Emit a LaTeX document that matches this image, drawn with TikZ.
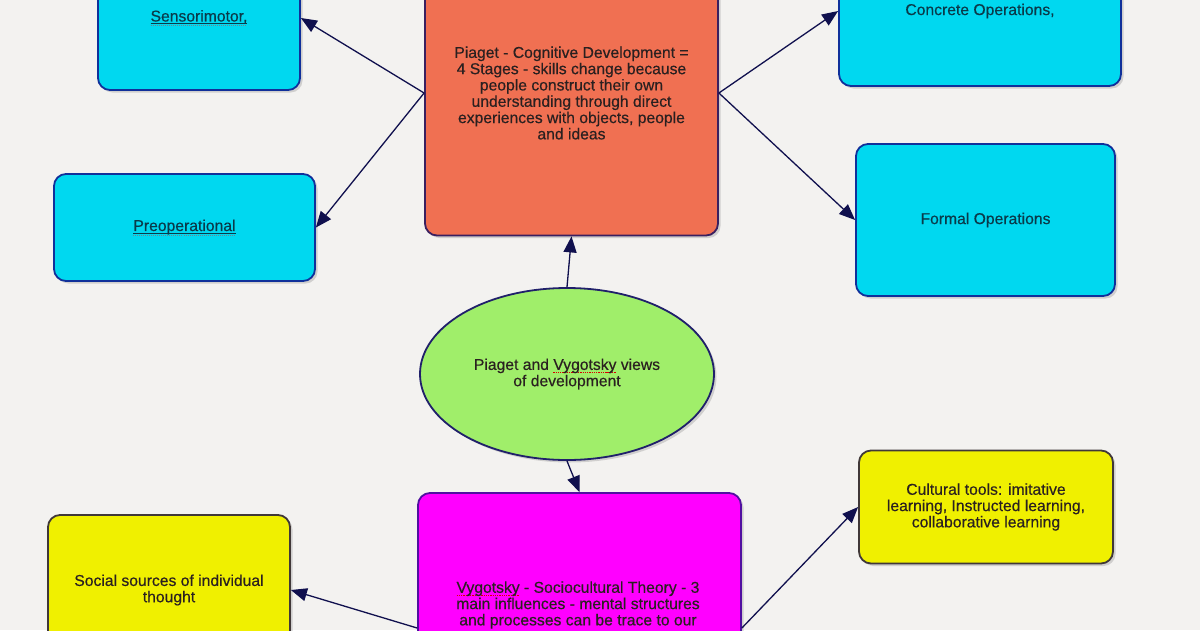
\documentclass[tikz,border=0pt]{standalone}
\usepackage{fontspec}
\setmainfont{Liberation Sans}[FakeBold=0.4]
\usetikzlibrary{arrows.meta,shapes.geometric,shadows}
\definecolor{bgc}{HTML}{F3F2F0}
\definecolor{cyanfill}{HTML}{00D8F0}
\definecolor{cyanline}{HTML}{10309A}
\definecolor{cyantext}{HTML}{0A3A4A}
\definecolor{orangefill}{HTML}{F07052}
\definecolor{orangeline}{HTML}{3A2060}
\definecolor{greenfill}{HTML}{A0EE6A}
\definecolor{greenline}{HTML}{20206A}
\definecolor{magfill}{HTML}{FF00FF}
\definecolor{magline}{HTML}{5010A0}
\definecolor{yelfill}{HTML}{F0F000}
\definecolor{yelline}{HTML}{403838}
\definecolor{navy}{HTML}{10104E}
\definecolor{darktext}{HTML}{2A2020}
\newbox\spbox
\newcommand\spellred[1]{\setbox\spbox\hbox{#1}\rlap{\raisebox{-2.8pt}{\textcolor{red!85!black}{\hbox to \wd\spbox{\xleaders\hbox{\rule{1.3pt}{0.8pt}\kern0.9pt}\hfil}}}}\box\spbox}
\newcommand\ulink[1]{\setbox\spbox\hbox{#1}\rlap{\raisebox{-2.6pt}{\rule{\wd\spbox}{0.7pt}}}\rlap{\raisebox{-4.4pt}{\textcolor{cyantext!60}{\hbox to \wd\spbox{\xleaders\hbox{\rule{1pt}{0.7pt}\kern1pt}\hfil}}}}\box\spbox}
\tikzset{
  box/.style={rectangle, rounded corners=12pt, line width=1.8pt, inner sep=0pt,
    align=center, font=\fontsize{15.7}{16.3}\selectfont,
    drop shadow={opacity=0.3, shadow xshift=2.5pt, shadow yshift=-2.5pt}},
  cyanbox/.style={box, fill=cyanfill, draw=cyanline, text=cyantext},
  orangebox/.style={box, fill=orangefill, draw=orangeline, text=darktext},
  magbox/.style={box, fill=magfill, draw=magline, text=darktext},
  yelbox/.style={box, fill=yelfill, draw=yelline, text=darktext},
  ovalnode/.style={ellipse, fill=greenfill, draw=greenline, line width=1.8pt, inner sep=0pt,
    align=center, font=\fontsize{15.7}{16.3}\selectfont, text=darktext,
    drop shadow={opacity=0.3, shadow xshift=2.5pt, shadow yshift=-2.5pt}},
  lbl/.style={inner sep=0pt, align=center, font=\fontsize{15.7}{16.3}\selectfont, text=darktext},
  conn/.style={draw=navy, line width=1.3pt, -{Triangle[length=16pt,width=13pt]}}
}
\begin{document}
\begin{tikzpicture}[x=1pt,y=-1pt]
\useasboundingbox (0,0) rectangle (1200,630);
\fill[bgc] (0,0) rectangle (1200,630);
\clip (0,0) rectangle (1200,630);

\node[cyanbox, minimum width=202pt, minimum height=144pt] (sen) at (199,18) {\ulink{Sensorimotor,}};
\node[cyanbox, minimum width=261pt, minimum height=107pt] (pre) at (184.5,227.5) {\ulink{Preoperational}};
\node[orangebox, minimum width=293pt, minimum height=285pt] (pia) at (571.5,93)
  {Piaget - Cognitive Development =\\4 Stages - skills change because\\people construct their own\\understanding through direct\\experiences with objects, people\\and ideas};
\node[cyanbox, minimum width=282pt, minimum height=150pt] (con) at (980,11) {Concrete Operations,};
\node[cyanbox, minimum width=259pt, minimum height=152pt] (for) at (985.5,220) {Formal Operations};

\node[ovalnode, minimum width=294pt, minimum height=172pt] (ell) at (567,374)
  {Piaget and \spellred{Vygotsky} views\\of development};

\node[magbox, minimum width=323pt, minimum height=270pt] (vyg) at (579.5,628) {};
\node[lbl] (vygt) at (578,605)
  {\spellred{Vygotsky} - Sociocultural Theory - 3\\main influences - mental structures\\and processes can be trace to our};
\node[yelbox, minimum width=242pt, minimum height=150pt] (soc) at (169,590)
  {Social sources of individual\\thought};
\node[yelbox, minimum width=254pt, minimum height=113pt] (cul) at (986,507)
  {Cultural tools: imitative\\learning, Instructed learning,\\collaborative learning};

\draw[conn] (pia.west) -- (sen.east);
\draw[conn] (pia.west) -- (pre.east);
\draw[conn] (pia.east) -- (con.west);
\draw[conn] (pia.east) -- (for.west);
\draw[conn] (ell.north) -- (pia.south);
\draw[conn] (ell.south) -- (vyg.north);
\draw[conn] (vyg.west) -- (soc.east);
\draw[conn] (vyg.east) -- (cul.west);
\end{tikzpicture}
\end{document}
